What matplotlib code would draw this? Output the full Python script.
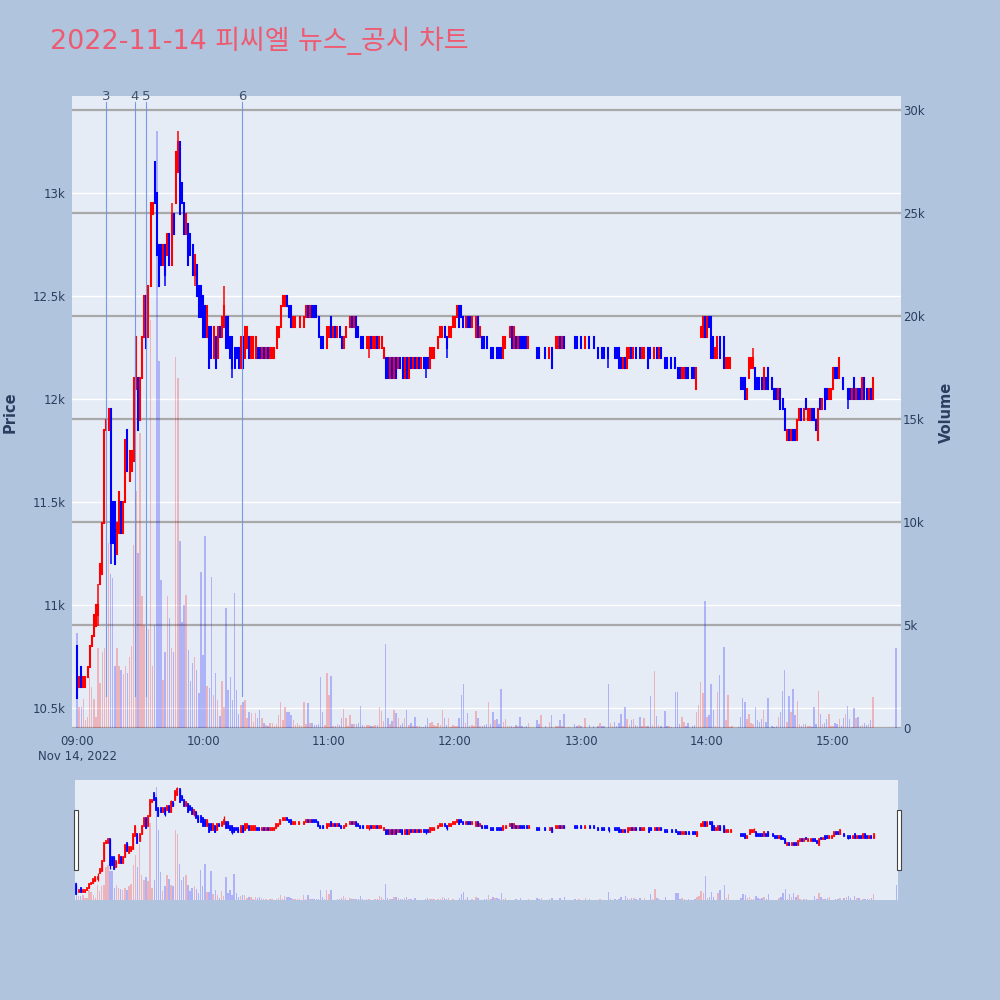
import matplotlib
matplotlib.use('Agg')
import matplotlib.pyplot as plt
import matplotlib.transforms as mtransforms
from matplotlib.patches import Rectangle
import numpy as np

# ---------------- data (one entry per minute from 09:00, None = no trade) ----------------
opens = [
    10800, 10600, 10700, 10600, 10600, 10650, 10700, 10800, 10850, 10900,
    10950, 11100, 11150, 11400, 11850, 11850, 11950, 11500, 11500, 11250,
    11350, 11500, 11350, 11500, 11850, 11600, 11650, 11700, 12050, 12100,
    11900, 12100, 12300, 12500, 12300, 12550, 12900, 13150, 13000, 12750,
    12750, 12650, 12750, 12700, 12800, 12650, 12900, 12950, 13100, 13250,
    13050, 12950, 12800, 12850, 12800, 12750, 12600, 12650, 12550, 12550,
    12500, 12450, 12300, 12350, 12350, 12200, 12300, 12200, 12350, 12300,
    12350, 12400, 12400, 12300, 12300, 12250, 12250, 12250, 12150, 12300,
    12200, 12250, 12300, 12200, 12200, 12200, 12250, 12250, 12200, 12250,
    12200, 12250, 12200, 12200, 12200, 12250, 12300, 12350, 12450, 12450,
    12500, 12450, 12450, 12350, 12350, 12400, 12350, 12400, 12350, 12400,
    12450, 12400, 12450, 12450, 12450, 12400, 12300, 12300, 12250, 12250,
    12300, 12400, 12300, 12350, 12300, 12350, 12300, 12250, 12300, 12350,
    12350, 12400, 12350, 12400, 12350, 12300, 12300, 12250, 12250, 12250,
    12300, 12250, 12250, 12300, 12250, 12250, 12200, 12200, 12200, 12100,
    12200, 12100, 12200, 12150, 12200, 12200, 12100, 12200, 12100, 12200,
    12150, 12200, 12150, 12200, 12150, 12200, 12200, 12200, 12150, 12200,
    12200, 12250, 12250, 12300, 12300, 12350, 12300, 12300, 12300, 12350,
    12350, 12400, 12450, 12450, 12400, 12350, 12400, 12400, 12350, 12400,
    12300, 12400, 12300, 12300, 12300, 12300, 12250, 12250, 12250, 12200,
    12250, 12250, 12250, 12200, 12250, 12300, 12300, 12350, 12250, 12300,
    12250, 12300, 12300, 12300, 12300, 12250, None, None, None, 12250,
    12250, 12250, None, 12250, None, 12200, 12250, None, 12250, 12250,
    12300, 12250, 12300, None, 12250, None, None, 12300, 12300, 12250,
    12300, None, 12250, None, 12300, None, 12300, None, 12250, 12250,
    12250, 12250, None, 12250, 12200, 12250, 12250, 12250, 12250, 12200,
    12150, 12200, 12150, 12200, 12250, 12200, 12250, 12200, 12250, 12200,
    12200, 12250, 12250, 12250, 12200, 12200, 12250, 12200, 12250, None,
    12200, 12200, 12200, 12200, None, 12200, 12150, 12150, 12100, 12100,
    12150, 12150, None, 12150, 12150, 12050, 12200, 12300, 12300, 12400,
    12300, 12400, 12400, 12300, 12200, 12200, 12300, None, 12300, 12150,
    12150, 12150, 12200, None, None, 12100, 12100, 12100, 12100, 12000,
    12100, 12150, 12150, 12150, 12100, 12100, 12100, 12050, 12100, 12150,
    None, 12100, 12050, 12050, 12000, 12050, 12000, 11950, 11800, 11850,
    11800, 11850, 11850, 11800, 11900, 11950, 11900, 12000, 11900, 11900,
    11950, 11950, 11900, 11800, 12000, 11950, 12050, 12050, 12000, 12000,
    12050, 12150, 12150, 12100, 12100, 12100, 12050, 12050, 12050, 12000,
    12100, 12000, 12050, 12050, 12000, 12100, 12050, 12000, 12050, 12000,
    None, None, None, None, None, None, None, None, None, None,
    11950,
]

closes = [
    10550, 10650, 10600, 10650, 10650, 10700, 10800, 10850, 10950, 11000,
    11000, 11200, 11400, 11850, 11900, 11950, 11300, 11300, 11200, 11400,
    11550, 11350, 11500, 11800, 11650, 11750, 11750, 12100, 12300, 11850,
    12100, 12300, 12500, 12250, 12550, 12950, 12950, 12950, 12700, 12550,
    12650, 12750, 12600, 12800, 12650, 12900, 12800, 13200, 13250, 12900,
    12950, 12800, 12900, 12650, 12700, 12600, 12700, 12500, 12400, 12400,
    12300, 12300, 12450, 12150, 12200, 12350, 12150, 12350, 12300, 12400,
    12450, 12250, 12250, 12200, 12150, 12150, 12200, 12150, 12300, 12150,
    12350, 12350, 12200, 12300, 12300, 12300, 12200, 12200, 12250, 12200,
    12250, 12200, 12250, 12250, 12250, 12350, 12350, 12450, 12500, 12500,
    12450, 12400, 12350, 12400, 12400, 12400, 12400, 12400, 12400, 12450,
    12400, 12450, 12400, 12400, 12400, 12300, 12250, 12250, 12250, 12350,
    12350, 12300, 12350, 12300, 12350, 12300, 12250, 12300, 12350, 12350,
    12400, 12350, 12400, 12300, 12300, 12250, 12250, 12250, 12300, 12300,
    12250, 12300, 12300, 12250, 12300, 12300, 12250, 12100, 12100, 12200,
    12100, 12200, 12100, 12200, 12150, 12100, 12200, 12100, 12200, 12150,
    12200, 12150, 12200, 12150, 12200, 12150, 12150, 12150, 12250, 12250,
    12250, 12250, 12300, 12350, 12350, 12300, 12250, 12350, 12350, 12400,
    12400, 12450, 12350, 12400, 12350, 12400, 12350, 12350, 12400, 12400,
    12400, 12300, 12350, 12250, 12250, 12250, 12250, 12200, 12200, 12200,
    12200, 12200, 12200, 12300, 12300, 12300, 12350, 12250, 12350, 12250,
    12300, 12250, 12250, 12250, 12250, 12300, None, None, None, 12200,
    12200, 12250, None, 12200, None, 12250, 12150, None, 12300, 12300,
    12250, 12300, 12250, None, 12250, None, None, 12250, 12250, 12250,
    12250, None, 12300, None, 12250, None, 12250, None, 12200, 12250,
    12200, 12200, None, 12200, 12200, 12250, 12200, 12200, 12150, 12150,
    12200, 12150, 12250, 12250, 12200, 12250, 12200, 12200, 12200, 12250,
    12250, 12250, 12150, 12200, 12200, 12250, 12200, 12250, 12200, None,
    12150, 12150, 12200, 12150, None, 12150, 12100, 12100, 12150, 12150,
    12100, 12100, None, 12100, 12100, 12150, 12200, 12350, 12400, 12300,
    12400, 12350, 12200, 12200, 12250, 12300, 12200, None, 12150, 12200,
    12200, 12200, 12200, None, None, 12100, 12050, 12050, 12000, 12050,
    12200, 12200, 12200, 12050, 12050, 12050, 12050, 12150, 12050, 12050,
    None, 12050, 12000, 12000, 12050, 11950, 11950, 11850, 11850, 11800,
    11850, 11800, 11800, 11900, 11950, 11900, 11950, 11950, 11950, 11950,
    11900, 11900, 11850, 11950, 11950, 12000, 11950, 12000, 12050, 12050,
    12150, 12100, 12100, 12200, 12100, 12050, 12050, 12000, 12000, 12050,
    12000, 12050, 12000, 12000, 12100, 12000, 12000, 12050, 12000, 12100,
    None, None, None, None, None, None, None, None, None, None,
    11950,
]

volumes = [
    4600, 1000, 1000, 1400, 400, 550, 2500, 2000, 1400, 550,
    3900, 2200, 3700, 3900, 8500, 9000, 7500, 7300, 3000, 3900,
    3000, 2800, 2600, 3000, 2650, 3460, 4000, 8900, 11500, 8500,
    14300, 6400, 5000, 6000, 4800, 19800, 3000, 5000, 29000, 17800,
    7200, 2340, 3700, 6400, 5320, 3860, 3700, 18000, 17000, 9100,
    5160, 5970, 6450, 3780, 2260, 3150, 3460, 2810, 1680, 7580,
    3540, 9300, 2020, 1930, 7340, 1620, 2650, 1370, 600, 2260,
    1030, 5810, 1850, 2500, 1370, 6530, 1850, 700, 1110, 1280,
    1370, 500, 790, 710, 300, 710, 470, 870, 470, 220,
    150, 100, 220, 220, 100, 200, 630, 1280, 380, 1030,
    790, 790, 630, 380, 150, 250, 150, 100, 1280, 200,
    1230, 250, 250, 150, 150, 200, 2500, 790, 150, 2650,
    1620, 2530, 100, 100, 200, 150, 480, 920, 480, 100,
    630, 200, 200, 200, 250, 1080, 150, 100, 150, 150,
    100, 100, 150, 150, 1030, 820, 350, 4070, 480, 200,
    320, 870, 710, 470, 150, 220, 480, 870, 150, 220,
    100, 550, 100, 100, 60, 60, 150, 470, 220, 300,
    150, 100, 220, 150, 870, 480, 150, 480, 60, 150,
    100, 110, 480, 1620, 2150, 250, 710, 100, 150, 100,
    840, 480, 110, 100, 150, 200, 1280, 200, 800, 400,
    450, 200, 1890, 300, 450, 100, 100, 100, 50, 150,
    100, 550, 100, 50, 100, 250, 0, 0, 0, 400,
    200, 620, 0, 100, 0, 300, 620, 0, 100, 100,
    400, 100, 700, 0, 50, 0, 0, 200, 100, 150,
    100, 0, 500, 0, 150, 0, 100, 0, 100, 250,
    100, 100, 0, 2130, 250, 100, 300, 100, 250, 700,
    100, 1000, 450, 150, 400, 450, 150, 100, 550, 100,
    500, 100, 100, 1550, 150, 2760, 600, 150, 100, 0,
    840, 100, 100, 50, 0, 1760, 1760, 200, 550, 300,
    100, 250, 0, 100, 150, 800, 1100, 2210, 1700, 6180,
    550, 650, 2130, 850, 100, 1730, 2570, 0, 3910, 400,
    1600, 50, 100, 0, 0, 50, 550, 1470, 1280, 450,
    700, 250, 200, 1040, 400, 300, 450, 870, 300, 1470,
    0, 100, 50, 100, 550, 800, 1800, 2810, 300, 1550,
    800, 1910, 650, 1330, 200, 100, 200, 200, 100, 100,
    50, 1000, 200, 1800, 700, 200, 250, 450, 670, 100,
    100, 250, 200, 450, 100, 500, 700, 1070, 450, 50,
    990, 500, 550, 100, 150, 250, 150, 200, 400, 1490,
    0, 0, 0, 0, 0, 0, 0, 0, 0, 0,
    3890,
]

# wicks beyond the candle body (minute index -> price)
wick_high = {10: 11100, 28: 12300, 37: 13150, 45: 12950, 48: 13300, 70: 12550,
             322: 12250, 363: 12200}
wick_low = {10: 10900, 16: 11200, 42: 12550, 56: 12550, 74: 12100, 139: 12200,
            166: 12100, 176: 12200, 253: 12150, 338: 11800, 367: 11950}

news_labels = ['3', '4', '5', '6']
news_times = ['09:13:50', '09:27:35', '09:32:55', '10:18:35']

x_tick_labels = ['09:00\nNov 14, 2022', '10:00', '11:00', '12:00', '13:00', '14:00', '15:00']
price_ticks = [10500, 11000, 11500, 12000, 12500, 13000]
price_tick_labels = ['10.5k', '11k', '11.5k', '12k', '12.5k', '13k']
vol_ticks = [0, 5000, 10000, 15000, 20000, 25000, 30000]
vol_tick_labels = ['0', '5k', '10k', '15k', '20k', '25k', '30k']

title = '2022-11-14 피씨엘 뉴스_공시 차트'

assert len(opens) == len(closes) == len(volumes)

# ---------------- styling ----------------
BG = '#b0c4de'
PLOT_BG = '#e5ecf6'
UP = '#ff0000'
DOWN = '#0000ff'
TXT = '#2a3f5f'
plt.rcParams['font.family'] = ['DejaVu Sans', 'Noto Sans CJK KR']


def hms_to_min(s):
    h, m, sec = [int(v) for v in s.split(':')]
    return (h - 9) * 60 + m + sec / 60.0


# candle arrays
idx = [i for i in range(len(opens)) if opens[i] is not None]
xs = np.array(idx, dtype=float)
o = np.array([opens[i] for i in idx], dtype=float)
c = np.array([closes[i] for i in idx], dtype=float)
hi = np.array([max(opens[i], closes[i], wick_high.get(i, 0)) for i in idx], dtype=float)
lo = np.array([min(opens[i], closes[i], wick_low.get(i, 1e9)) for i in idx], dtype=float)
cols = []
prev = None
minute_color = {}
for i in idx:
    if closes[i] > opens[i]:
        col = UP
    elif closes[i] < opens[i]:
        col = DOWN
    else:
        col = UP if (prev is None or closes[i] >= prev) else DOWN
    prev = closes[i]
    cols.append(col)
    minute_color[i] = col

vx = np.array([i for i in range(len(volumes)) if volumes[i] > 0], dtype=float)
vv = np.array([volumes[i] for i in range(len(volumes)) if volumes[i] > 0], dtype=float)
vcols = [((1, 0, 0, 0.24) if minute_color.get(int(i), DOWN) == UP else (0, 0, 1, 0.24)) for i in vx]

PRICE_LIM = (10403, 13471)
VOL_LIM = (0, 30680)


def draw_candles(ax, body_lw=1.5, wick_lw=1.1):
    w = ax.vlines(xs, lo, hi, colors=cols, linewidth=wick_lw)
    b = ax.vlines(xs, np.minimum(o, c), np.maximum(o, c), colors=cols, linewidth=body_lw)
    b.set_capstyle('projecting')
    w.set_capstyle('butt')


fig = plt.figure(figsize=(10, 10), dpi=100, facecolor=BG)

rect = [0.072, 0.272, 0.829, 0.632]
ax_p = fig.add_axes(rect)
ax_p.set_facecolor(PLOT_BG)
ax_v = ax_p.twinx()
ax_c = fig.add_axes(rect, sharex=ax_p, sharey=ax_p)
ax_p.set_zorder(0)
ax_v.set_zorder(1)
ax_c.set_zorder(2)
ax_c.patch.set_visible(False)
ax_v.patch.set_visible(False)

ax_p.set_xlim(-2.4, 392.4)
ax_p.set_ylim(*PRICE_LIM)
ax_v.set_ylim(*VOL_LIM)

# price axis
ax_p.set_yticks(price_ticks)
ax_p.set_yticklabels(price_tick_labels)
ax_p.yaxis.grid(True, color='white', linewidth=1.0)
ax_p.xaxis.grid(False)
ax_p.set_axisbelow(True)
ax_p.set_xticks([0, 60, 120, 180, 240, 300, 360])
ax_p.set_xticklabels(x_tick_labels)
ax_p.tick_params(axis='both', length=0, labelsize=8.5, labelcolor=TXT)
ax_p.tick_params(axis='y', pad=4.5)
ax_p.tick_params(axis='x', pad=5)

# volume axis
ax_v.set_yticks(vol_ticks)
ax_v.set_yticklabels(vol_tick_labels)
ax_v.yaxis.grid(True, color='#a9a9a9', linewidth=1.6)
ax_v.set_axisbelow(True)
ax_v.tick_params(axis='y', length=0, labelsize=8.5, labelcolor=TXT, pad=1.5)
ax_v.bar(vx, vv, width=0.7, color=vcols, linewidth=0)

for a in (ax_p, ax_v, ax_c):
    for s in a.spines.values():
        s.set_visible(False)
ax_c.tick_params(left=False, bottom=False, labelleft=False, labelbottom=False)
ax_c.grid(False)

draw_candles(ax_c)

# news markers
trans = mtransforms.blended_transform_factory(ax_c.transData, ax_c.transAxes)
for lab, t in zip(news_labels, news_times):
    m = hms_to_min(t)
    ax_c.axvline(m, ymin=0.05, ymax=0.99, color='#7090e8', linewidth=0.8, alpha=0.9)
    ax_c.text(m, 1.0, lab, transform=trans, ha='center', va='center',
              fontsize=9.5, color='#44546a', clip_on=False)

# titles
fig.text(0.05, 0.959, title, fontsize=19.4, color='#ee5a70', ha='left', va='center',
         family=['DejaVu Sans', 'Noto Sans CJK KR'])
fig.text(0.010, 0.588, 'Price', rotation=90, fontsize=10.5, fontweight='bold',
         color=TXT, ha='center', va='center')
fig.text(0.946, 0.588, 'Volume', rotation=90, fontsize=10.5, fontweight='bold',
         color=TXT, ha='center', va='center')

# ---------------- range slider ----------------
srect = [0.075, 0.100, 0.823, 0.120]
ax_sv = fig.add_axes(srect)
ax_sv.set_facecolor(PLOT_BG)
ax_sc = fig.add_axes(srect, sharex=ax_sv)
ax_sc.patch.set_visible(False)
for a in (ax_sv, ax_sc):
    a.set_xlim(-0.7, 390.6)
    a.set_xticks([])
    a.set_yticks([])
    for s in a.spines.values():
        s.set_visible(False)
ax_sv.set_ylim(*VOL_LIM)
ax_sc.set_ylim(*PRICE_LIM)
ax_sv.bar(vx, vv, width=0.7, color=vcols, linewidth=0)
draw_candles(ax_sc, body_lw=1.3, wick_lw=0.9)

for hx in (0.0735, 0.8965):
    fig.add_artist(Rectangle((hx, 0.130), 0.004, 0.060, transform=fig.transFigure,
                             facecolor='white', edgecolor='#444444', linewidth=0.8))

fig.savefig('out.png', dpi=100, facecolor=BG)
